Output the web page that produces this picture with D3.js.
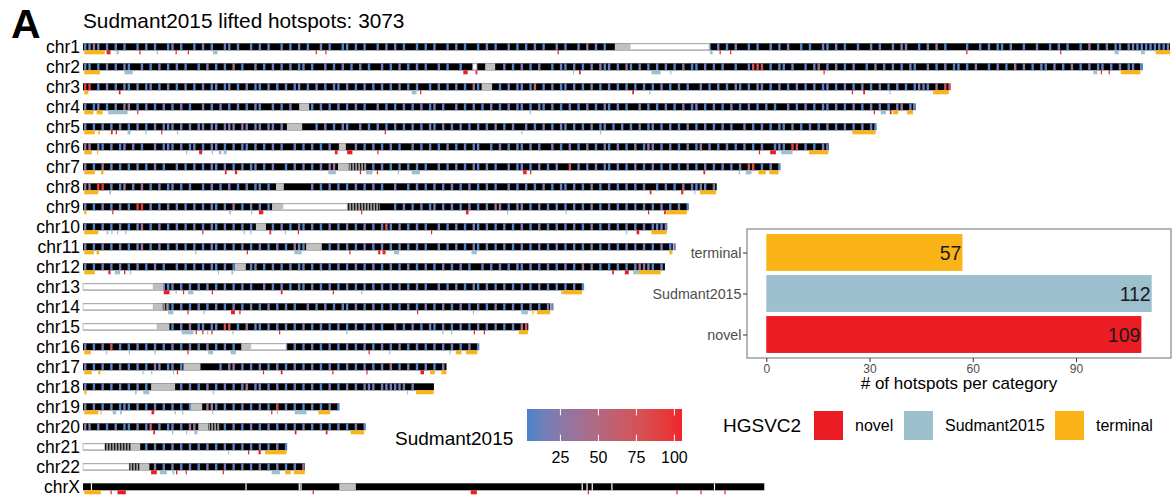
<!DOCTYPE html>
<html>
<head>
<meta charset="utf-8">
<script src="https://cdn.jsdelivr.net/npm/d3@7"></script>
<style>
  body { margin: 0; background: #fff; }
  svg { display: block; font-family: "Liberation Sans", Arial, Helvetica, sans-serif; }
</style>
</head>
<body>
<svg id="chart" width="1173" height="498"></svg>
<script>
// ---- chromosomes (hg38, Mb) ----
const chromNames = ["chr1","chr2","chr3","chr4","chr5","chr6","chr7","chr8","chr9","chr10","chr11","chr12",
  "chr13","chr14","chr15","chr16","chr17","chr18","chr19","chr20","chr21","chr22","chrX"];
const chromLengths = [248.96,242.19,198.30,190.21,181.54,170.81,159.35,145.14,138.39,133.80,135.09,133.28,
  114.36,107.04,101.99,90.34,83.26,80.37,58.62,64.44,46.71,50.82,156.04];

// gaps: [chrom, start, end, kind]  kind: cen = centromere/heterochromatin, het = unplaced arm,
// mix = satellite-rich block, brk = assembly break
const gapRegions = [
  ["chr1",121.8,125.3,"cen"],["chr1",125.3,143.4,"het"],
  ["chr2",89.3,90.2,"het"],["chr2",92.1,94.4,"cen"],
  ["chr3",91.3,93.7,"cen"],
  ["chr4",49.5,51.8,"cen"],
  ["chr5",46.7,50.2,"cen"],
  ["chr6",58.6,60.2,"cen"],
  ["chr7",58.4,60.9,"cen"],["chr7",60.9,65.0,"mix"],
  ["chr8",44.2,46.0,"cen"],
  ["chr9",43.3,45.8,"cen"],["chr9",45.8,60.5,"het"],["chr9",60.5,68.0,"mix"],
  ["chr10",39.6,41.9,"cen"],
  ["chr11",51.1,54.7,"cen"],
  ["chr12",34.8,37.3,"cen"],
  ["chr13",0,16.1,"het"],["chr13",16.1,18.4,"cen"],
  ["chr14",0,16.1,"het"],["chr14",16.1,18.3,"cen"],["chr14",18.3,19.5,"mix"],
  ["chr15",0,17.0,"het"],["chr15",17.0,19.8,"cen"],
  ["chr16",36.3,38.4,"cen"],["chr16",38.4,46.5,"het"],
  ["chr17",23.0,26.9,"cen"],
  ["chr18",15.6,21.1,"cen"],
  ["chr19",24.7,27.3,"cen"],
  ["chr20",26.4,28.7,"cen"],["chr20",28.7,31.4,"mix"],
  ["chr21",0,5.0,"het"],["chr21",5.0,10.9,"mix"],["chr21",10.9,13.1,"cen"],
  ["chr22",0,10.6,"het"],["chr22",10.6,12.9,"mix"],["chr22",12.9,15.2,"cen"],
  ["chrX",58.7,62.5,"cen"],
  ["chrX",1.8,2.1,"brk"],["chrX",37.2,37.4,"brk"],["chrX",49.4,49.6,"brk"],["chrX",49.8,50.0,"brk"],
  ["chrX",114.2,114.4,"brk"],["chrX",115.3,115.5,"brk"],["chrX",116.5,116.7,"brk"],
  ["chrX",121.0,121.2,"brk"],["chrX",144.5,144.7,"brk"]
];

// Sudmant2015 hotspots per 1-Mb bin ('.' = none, digit d = hotspot score 5 + 10*d)
const hotspotBins = [
  "0131.0.1.0 ..0.1.0..0 1.0..0.1.0 ..10.1..0. 0.1..0.0.1 .0..1.0..0 0.0.1..0.1 .1.0..0.0. 1..0.1.0.. 0.1.0..1.0 .0.1.0..1. 0..1.3.1.0 .......... .......... ...0.1.0.1 ..0.0..1.0 .1..0.0..1 0.1.0..0.. 1.0..1.13. .0.1.3.0.. ..0..0.1.0 0.1..0..1. .0.1.0..0. 3.0.1.01.0 1010101011",
  "01.0.1.0.1 0..1.0.1.0 .1.0..0.1. 0.1.3.0..1 .0.1.0.1.0 1.0..1.0.1 .0.1.0..1. 0.1.0.1.0. .1.0..0... ......1.0. 1.0.1..0.1 0.1.0.1.30 1.0.30.1.0 .1.1.0.1.0 0.1.0.1..0 ..0777.0.1 0.1..0.13. 0.1.0.1..0 .1.0.1.0.1 0..1.0.1.0 1.0.1..0.1 .0.3.1.0.1 0.1.0.1.0. 1.01.0.1.0 1.0",
  "99.0.1.0.1 0.1.01.0.1 .0.1.0.1.0 1.01.0.1.0 0.1.0.1.01 .0.1.0.10. 1.0.1.0.1. 0.1.0.1..0 .1.0.1.0.3 0....0.1.0 1.05.0.1.0 0.1.0.1.0. 1.0.1.0.1. 0.1.0.1.0. .1.0.1.0.1 0.0.11.0.1 .0.1.0.1.0 1.0.1.0.1. 0.1.0.1.0. 0301.3.77.",
  "1.01.0.1.3 3.0.1.0.1. 0.1.0..1.0 .1.0.1.0.1 0..1.0.1.. ..0.1.0.1. 0.1.0..1.0 .0.1.0.1.0 1.0..1.0.1 .0.1.0.1.0 1.0.10.1.0 .1.0.1.0.1 0.1.0..1.0 .0.1.0.1.0 1.0.1.0.1. 0.1.0.1.0. .1.0.1.0.1 0.1.0.1.0. 1.1.0.13.1 0",
  "1.0.1.0.1. 0.1.0.1.01 1.1.1.11.1 1.131.31.1 1.11.1.1.. ...0.1.0.1 0..1.0.1.0 .1.0.1.0.1 0.1.0.1.0. 1.0.1.0.1. .1.0.1.0.1 0.1.0.1.01 .0.1.0.1.0 1.0.1.0.1. 0.1.0.1.0. .1.0.1.0.1 0.1.0.1.0. 1.0.1.0.1. 01",
  "33.10.1.01 .1.0..1.01 0.1.01.0.1 1.0.1.10.1 .0.1.0..1. 0.1.0.1... ..1.0.1.0. 1.0..1.0.1 .0.1.0.1.0 1..0.1.0.1 0.1.0..1.0 .1.0.1.0.1 0.1.0.1.03 1.0.1.0.1. 03.1.0.1.0 .1.0.1..01 0.88.1.0.1 1.0.1.0.1",
  "1.0.3.1.0. 0.1.0.1.0. .1.0.1.0.1 0.1.0.1.01 .0.1..0.1. 1.0.1.33.. ......0.1. 0.1.0.1.0. .1.0.1.0.1 0.1.0..1.0 1.0.1.0.1. .7.1.0.1.0 0.1.0.1.0. 1.0.1.0.1. 0.1.0.1.0. 1.77.0.1.0",
  "33.99.1.03 .1.3.0.1.0 1.0.1..0.1 .0.1.0.1.0 1.0.1..... ..1.0.1.0. 0.1.0.1.0. .1..0.1.0. 1.0.1.0.1. 0.1.0..1.0 .1.0.1.0.1 0.1.0.1.0. 1.0.1.0.1. .0.1.0.3.0 111.1.",
  "1.0.1.0.1. 0.99.1.0.1 .1.0.1.0.1 0.1.3.0.1. 1.0....... .......... .......... .0.1.0.1.0 1.0.1.0.1. 0.1.33.0.1 3.0.1.0.1. 0.1.0.1.0. 1.0.1.0.1. 0.1.0.1.01",
  "1.0.1.0.1. 0.13.0.1.0 .1.0.1.0.1 0.1.0.1.0. ...0.1.0.1 0.1.0.1.0. 1.0.1.0.17 0.1.0.1.0. .1.0.1.0.1 0.1.0.1.0. 1.0.1.0.1. 0.1.0.1.0. 1.0.1.0.1. 0111",
  "1.0.1.0.1. 0.13.0.1.0 .1.0.1.0.1 0.1.0.1.0. 1.0.1.0.31 0.....0.1. 1.0.1.0.1. 0.1.0.1.0. .1.0.1.0.1 0.1.0.1.0. 1.0.1.0.1. 0.1.0.1.0. 1.0.1.0.1. 0.1.01",
  "1.0.1.0.1. 0.1.0.1.0. .1.0.1.0.1 0.1.0...01 .0.1.0.1.0 1.0.1.0.1. 0.1.0.1.0. 1.0.1.0.1. 0.1.0.1.0. .1.0.1.0.1 0.1.0.1.0. 1.0.3.1.0. 0.1.0.1331 0.1.0",
  ".......... ........10 1.0.1.0.1. 0.1.0.1.0. .1.0.1.0.1 0.1.0.1.0. 1.0.1.0.1. 0.1.0.1.0. .1.0.1.0.1 0.1.0.1.0. 1.0.1.0.1. 0.1.01",
  ".......... ........01 0.1.0.1.0. 1.0.1.0.1. 0.1.0.1.0. .1.0.1.0.1 0.1.0.1.0. 1.0.1.0.1. 0.1.0.1.0. 1.0.1.0.1. 0.1.0.11",
  ".......... .......... 0.1.3.01.0 1.77.0.3.1 0.1.0.1.0. 1.0.1.0.1. 0.1.0.1.0. .1.0.1.0.1 0.1.0.1.0. 1.0.1.0.1. 37",
  "1.0.1.7.0. 0.1.0.1.0. 1.0.1.0.1. 0.1.0.1... ......0.1. 0.1.0.1.0. 1.0.1.0.1. 0.1.0.1.0. 1.0.1.0.1. 0",
  "1.0.1.0.1. 0.1.0.31.0 1.0....... .0.13.1.0. 1.0.1.0.1. 0.1.0.1.0. 1.0.1.0.1. 3.0.1.0.1. 0.1.0",
  "1.0.1.0.1. 0.1.0..... ..0.1.0.1. 0.1.0.13.1 1.0.1.0.1. 0.1.0.1.0. 1.1.111.11 1111.1....",
  "1.1.0.1.01 0.1.0.1.0. 1.0.1...33 0.1.0.1.0. 1.0.7.1.0. 0.1.0.1.0.",
  "31.1.0.1.0 0.1.07.1.0 1.0.33.... ..0.1.0.1. 0.1.0.1.0. 1.0.1.0.1. 0.1.01",
  ".......... ....0.1.0. 1.0.1.0.1. 0.1.0.1.0. 1.0.1.0",
  ".......... ......1.0. 1.0.1.0.1. 0.1.0.1.0. 1.0.1.0.1. 3",
  ""
];

// HGSVC2 hotspot categories: [chrom, start, end] in Mb
const terminalMarks = [
  ["chr1",0.3,5.0],["chr1",245.7,249.0],["chr2",0.3,3.9],["chr2",237.7,242.2],["chr3",0.3,1.2],["chr3",194.7,198.3],
  ["chr4",0.3,2.4],["chr4",3.1,4.5],["chr4",185.5,186.7],["chr4",188.7,190.1],["chr5",0.3,2.7],["chr5",3.5,3.9],["chr5",176.2,181.5],
  ["chr6",0.3,2.0],["chr6",3.2,3.4],["chr6",166.3,170.7],["chr7",0.3,2.7],["chr7",4.1,4.7],["chr7",154.7,156.4],["chr7",157.2,159.3],
  ["chr8",0.3,3.5],["chr8",141.3,145.0],["chr9",0.3,0.8],["chr9",133.6,138.3],["chr10",0.3,3.5],["chr10",130.2,133.7],
  ["chr11",0.3,2.5],["chr11",3.1,3.7],["chr11",134.3,135.0],["chr12",0.3,2.7],["chr12",127.3,132.3],["chr13",109.8,114.3],
  ["chr14",102.9,103.2],["chr14",104.0,107.0],["chr15",99.8,101.9],["chr16",0.3,1.8],["chr16",85.4,86.7],["chr16",87.7,90.3],
  ["chr17",0.3,2.0],["chr17",3.5,4.0],["chr17",79.5,80.6],["chr17",82.1,83.2],["chr18",0.3,0.8],["chr18",76.3,80.3],
  ["chr19",0.3,3.5],["chr19",4.0,4.2],["chr19",53.9,56.6],["chr20",61.3,64.4],["chr21",41.7,46.6],
  ["chr22",46.3,47.6],["chr22",48.3,50.8],["chrX",0.3,4.1]
];
const sudmantMarks = [
  ["chr1",7.7,8.2],["chr1",16.9,17.2],["chr1",29.8,30.8],["chr1",143.6,144.2],["chr1",236.3,237.2],["chr1",242.3,243.2],
  ["chr2",9.5,11.4],["chr2",112.2,112.4],["chr2",130.2,132.3],["chr2",134.5,134.7],["chr2",231.4,232.3],
  ["chr3",75.3,76.4],["chr3",129.7,129.9],["chr3",184.7,184.9],
  ["chr4",5.8,10.2],["chr4",102.3,102.5],["chr4",182.7,183.9],
  ["chr5",10.2,10.9],["chr5",14.3,14.5],["chr5",21.5,21.8],["chr5",100.4,100.6],["chr5",118.4,118.7],
  ["chr6",23.6,23.8],["chr6",29.5,29.7],["chr6",31.1,31.7],["chr6",32.2,32.9],["chr6",159.9,162.5],
  ["chr7",56.2,57.9],["chr7",64.8,66.3],["chr7",72.1,72.3],["chr7",75.3,77.2],["chr7",150.2,150.4],["chr7",151.8,153.1],
  ["chr8",6.0,6.4],["chr8",140.0,140.2],
  ["chr9",33.5,33.9],["chr9",38.5,38.7],["chr9",97.1,97.3],["chr9",110.5,110.7],
  ["chr10",5.4,5.8],["chr10",6.5,6.7],["chr10",7.8,8.0],["chr10",9.7,9.9],["chr10",36.8,37.0],["chr10",38.3,38.5],["chr10",46.2,46.4],["chr10",124.4,124.6],
  ["chr11",25.7,25.9],["chr11",48.4,50.1],["chr11",71.2,72.4],["chr11",89.0,90.2],
  ["chr12",7.3,8.5],["chr12",10.8,11.0],["chr12",30.9,31.1],["chr12",34.0,34.4],["chr12",126.0,127.3],
  ["chr13",21.2,21.4],["chr13",24.1,25.3],["chr13",63.7,63.9],["chr13",109.5,109.7],
  ["chr14",19.5,20.7],["chr14",27.6,27.8],["chr14",89.3,89.5],["chr14",100.4,101.9],
  ["chr15",22.6,25.3],["chr15",28.4,28.6],["chr15",34.2,34.4],["chr15",60.3,60.5],["chr15",82.3,82.5],["chr15",84.3,84.5],
  ["chr16",5.3,5.5],["chr16",10.5,10.7],["chr16",16.4,16.6],["chr16",28.7,29.8],["chr16",33.8,35.0],["chr16",70.1,70.3],["chr16",83.9,84.1],
  ["chr17",13.6,13.8],["chr17",15.6,15.8],["chr17",20.6,20.8],
  ["chr18",11.9,12.3],["chr18",13.8,15.2],["chr18",29.7,29.9],["chr18",74.2,74.4],
  ["chr19",6.8,7.6],["chr19",8.5,8.9],["chr19",21.0,21.2],["chr19",22.7,22.9],["chr19",29.6,29.8],["chr19",44.4,44.6],["chr19",48.5,51.2],
  ["chr20",20.4,20.6],["chr20",23.6,23.8],["chr20",25.5,26.2],
  ["chr21",33.2,33.4],
  ["chr22",17.6,19.2],["chr22",20.5,20.9],["chr22",43.2,45.1]
];
const novelMarks = [
  ["chr1",5.4,6.3],["chr1",12.9,13.2],["chr1",21.2,21.4],["chr1",24.0,24.2],["chr1",53.3,53.5],["chr1",55.5,55.7],["chr1",108.7,108.9],
  ["chr1",145.8,146.0],["chr1",148.2,148.4],["chr1",202.3,202.5],["chr1",223.8,224.0],
  ["chr2",87.1,88.1],["chr2",89.9,90.3],["chr2",113.6,114.0],["chr2",169.6,169.8],["chr2",233.1,233.3],["chr2",234.9,235.1],
  ["chr3",8.2,8.6],["chr3",77.2,77.4],["chr3",125.8,126.2],["chr3",176.1,176.3],["chr3",178.7,179.1],
  ["chr4",12.4,12.6],["chr4",181.1,181.3],["chr4",184.8,185.2],
  ["chr5",6.4,6.8],["chr5",7.5,7.7],["chr5",17.9,18.1],["chr5",69.1,69.3],
  ["chr6",26.6,27.3],["chr6",57.7,58.3],["chr6",60.5,61.7],["chr6",67.4,67.6],["chr6",154.8,155.0],["chr6",157.4,158.7],
  ["chr7",32.5,32.9],["chr7",34.8,35.3],["chr7",63.4,63.7],["chr7",67.3,67.5],["chr7",100.8,101.6],["chr7",102.4,102.6],["chr7",142.1,142.5],
  ["chr8",129.8,130.2],["chr8",137.0,137.5],
  ["chr9",6.7,6.9],["chr9",40.3,41.3],["chr9",63.7,63.9],["chr9",87.7,88.3],["chr9",129.4,129.6],["chr9",133.1,133.5],
  ["chr10",27.3,27.5],["chr10",42.7,43.1],["chr10",49.2,49.4],["chr10",79.7,79.9],["chr10",126.8,127.4],
  ["chr11",37.5,37.7],["chr11",61.0,61.2],["chr11",67.6,68.1],["chr11",68.6,69.3],
  ["chr12",5.8,6.3],["chr12",9.4,9.7],["chr12",121.2,121.6],["chr12",124.1,125.0],
  ["chr13",18.5,19.8],["chr13",22.9,23.1],["chr13",29.5,29.7],["chr13",45.3,45.7],["chr13",57.2,57.4],
  ["chr14",23.9,24.1],["chr14",33.9,34.8],["chr14",35.8,36.1],["chr14",76.5,76.7],
  ["chr15",25.8,26.0],["chr15",27.3,27.5],["chr15",29.4,29.6],["chr15",44.9,45.1],["chr15",89.5,89.7],["chr15",91.8,92.0],
  ["chr16",23.9,24.1],["chr16",65.4,65.6],
  ["chr17",21.5,21.7],["chr17",41.2,41.4],["chr17",45.3,45.7],["chr17",57.1,57.3],["chr17",64.9,65.1],["chr17",77.3,78.1],
  ["chr19",15.7,16.3],["chr19",43.1,43.3],
  ["chr20",16.1,16.5],["chr20",48.5,48.9],["chr20",55.6,56.0],
  ["chr21",37.8,38.0],["chr21",40.2,40.7],
  ["chr22",15.6,16.9],["chr22",21.3,21.6],["chr22",23.5,23.7],["chr22",32.0,32.2],
  ["chrX",6.3,6.5],["chrX",7.9,9.8],["chrX",52.6,52.8],["chrX",88.8,90.2],["chrX",115.6,115.8],["chrX",135.9,136.1],["chrX",141.4,141.6],["chrX",146.9,147.1]
];

// category summary
const categoryNames = ["terminal","Sudmant2015","novel"];
const categoryCounts = [57, 112, 109];
const categoryColors = ["#fbb418", "#9cc0cd", "#ec1c24"];
const countTicks = [0, 30, 60, 90];
const scoreTicks = [25, 50, 75, 100];
const hotspotTotal = 3073;

// ---------------------------------------------------------------
const svg = d3.select("#chart");
const FONT_BLACK = "#000";

// title block
svg.append("text").attr("x", 11).attr("y", 37.5)
  .attr("font-size", 41).attr("font-weight", "bold").text("A");
svg.append("text").attr("x", 83).attr("y", 28.3)
  .attr("font-size", 20.8).attr("fill", FONT_BLACK)
  .text(`Sudmant2015 lifted hotspots: ${hotspotTotal}`);

// genome scales
const gx = d3.scaleLinear().domain([0, chromLengths[0]]).range([83, 1170]);
const rowTop = d3.scalePoint().domain(chromNames).range([43.3, 483.3]);
const barH = 7, markH = 4;
const lenOf = Object.fromEntries(chromNames.map((c, i) => [c, chromLengths[i]]));

const score = d3.scaleLinear().domain([3, 105]).range(["#4a84cc", "#f0252a"])
  .interpolate(d3.interpolateLab).clamp(true);

// satellite pattern
const defs = svg.append("defs");
const pat = defs.append("pattern").attr("id", "satPat").attr("patternUnits", "userSpaceOnUse")
  .attr("width", 3).attr("height", 10);
pat.append("rect").attr("width", 3).attr("height", 10).attr("fill", "#9a9a9a");
pat.append("rect").attr("width", 1.3).attr("height", 10).attr("fill", "#1a1a1a");

const ideo = svg.append("g");

// chromosome labels
ideo.selectAll("text.chr").data(chromNames).join("text")
  .attr("class", "chr")
  .attr("x", 80).attr("y", d => rowTop(d) + barH / 2)
  .attr("dy", "0.36em").attr("text-anchor", "end")
  .attr("font-size", 17.5).attr("fill", FONT_BLACK).text(d => d);

// chromosome bodies
ideo.selectAll("rect.body").data(chromNames).join("rect")
  .attr("class", "body")
  .attr("x", gx(0)).attr("y", d => rowTop(d))
  .attr("width", d => gx(lenOf[d]) - gx(0)).attr("height", barH)
  .attr("fill", "#000");

// hotspots
const hotspots = [];
hotspotBins.forEach((s, ci) => {
  const bins = s.replace(/ /g, "");
  for (let b = 0; b < bins.length; b++) {
    const c = bins[b];
    if (c === ".") continue;
    if (b >= chromLengths[ci]) break;
    hotspots.push({ chrom: chromNames[ci], pos: b + 0.5, value: 5 + 10 * (+c) });
  }
});
ideo.selectAll("rect.hs").data(hotspots).join("rect")
  .attr("class", "hs")
  .attr("x", d => gx(d.pos) - 1.2).attr("width", 2.4)
  .attr("y", d => rowTop(d.chrom)).attr("height", barH)
  .attr("fill", d => score(d.value));

// gaps on top
const gapG = ideo.append("g");
gapRegions.forEach(([chrom, s, e, kind]) => {
  const y = rowTop(chrom);
  const r = gapG.append("rect").attr("x", gx(s)).attr("width", Math.max(gx(e) - gx(s), 1))
    .attr("y", y).attr("height", barH);
  if (kind === "cen") r.attr("fill", "#c0c0c0");
  else if (kind === "het") r.attr("fill", "#fff").attr("stroke", "#c9c9c9").attr("stroke-width", 1)
    .attr("y", y + 0.5).attr("height", barH - 1);
  else if (kind === "mix") r.attr("fill", "url(#satPat)");
  else r.attr("fill", "#fff").attr("width", 1.2);
});

// HGSVC2 category marks below each chromosome
const markSets = [
  { marks: terminalMarks, color: categoryColors[0] },
  { marks: sudmantMarks, color: categoryColors[1] },
  { marks: novelMarks, color: categoryColors[2] }
];
markSets.forEach(({ marks, color }) => {
  ideo.append("g").selectAll("rect").data(marks).join("rect")
    .attr("x", d => gx(d[1]))
    .attr("width", d => Math.max(gx(d[2]) - gx(d[1]), 1.2))
    .attr("y", d => rowTop(d[0]) + barH)
    .attr("height", markH)
    .attr("fill", color);
});

// ---- inset: hotspots per category ----
const panel = { x0: 747, x1: 1171, y0: 229, y1: 358 };
const cx = d3.scaleLinear().domain([-5.6, 117.6]).range([panel.x0, panel.x1]);
const cy = d3.scalePoint().domain(categoryNames).range([panel.y0, panel.y1]).padding(0.573);
const bandH = cy.step() * 0.9;
const inset = svg.append("g");

inset.append("rect").attr("x", panel.x0).attr("y", panel.y0)
  .attr("width", panel.x1 - panel.x0).attr("height", panel.y1 - panel.y0)
  .attr("fill", "#fff");

inset.selectAll("rect.bar").data(categoryNames).join("rect")
  .attr("class", "bar")
  .attr("x", cx(0)).attr("y", d => cy(d) - bandH / 2)
  .attr("width", (d, i) => cx(categoryCounts[i]) - cx(0)).attr("height", bandH)
  .attr("fill", (d, i) => categoryColors[i]);

inset.selectAll("text.val").data(categoryNames).join("text")
  .attr("class", "val")
  .attr("x", (d, i) => cx(categoryCounts[i]) - 1).attr("y", d => cy(d))
  .attr("dy", "0.36em").attr("text-anchor", "end")
  .attr("font-size", 19.5).attr("fill", "#1a1a1a")
  .text((d, i) => categoryCounts[i]);

inset.append("rect").attr("x", panel.x0).attr("y", panel.y0)
  .attr("width", panel.x1 - panel.x0).attr("height", panel.y1 - panel.y0)
  .attr("fill", "none").attr("stroke", "#7a7a7a").attr("stroke-width", 1.1);

const yAxis = inset.append("g").attr("transform", `translate(${panel.x0},0)`)
  .call(d3.axisLeft(cy).tickSize(4).tickPadding(1.5));
yAxis.select(".domain").remove();
yAxis.selectAll("line").attr("stroke", "#333");
yAxis.selectAll("text").attr("font-size", 14.3).attr("fill", "#4d4d4d")
  .attr("font-family", "Liberation Sans, Arial, sans-serif");

const xAxis = inset.append("g").attr("transform", `translate(0,${panel.y1})`)
  .call(d3.axisBottom(cx).tickValues(countTicks).tickSize(4).tickPadding(2));
xAxis.select(".domain").remove();
xAxis.selectAll("line").attr("stroke", "#333");
xAxis.selectAll("text").attr("font-size", 12).attr("fill", "#4d4d4d")
  .attr("font-family", "Liberation Sans, Arial, sans-serif");

inset.append("text").attr("x", (panel.x0 + panel.x1) / 2).attr("y", 389)
  .attr("text-anchor", "middle").attr("font-size", 17).attr("fill", FONT_BLACK)
  .text("# of hotspots per category");

// ---- score colour bar ----
const cb = { x0: 527, x1: 682, y0: 409, y1: 441 };
const cbx = d3.scaleLinear().domain(score.domain()).range([cb.x0, cb.x1]);
const grad = defs.append("linearGradient").attr("id", "scoreGrad");
d3.range(0, 1.0001, 0.1).forEach(t => {
  const v = score.domain()[0] + t * (score.domain()[1] - score.domain()[0]);
  grad.append("stop").attr("offset", t).attr("stop-color", score(v));
});
const leg = svg.append("g");
leg.append("text").attr("x", 395).attr("y", 438).attr("dy", "0.36em")
  .attr("font-size", 19).attr("fill", FONT_BLACK).text("Sudmant2015");
leg.append("rect").attr("x", cb.x0).attr("y", cb.y0)
  .attr("width", cb.x1 - cb.x0).attr("height", cb.y1 - cb.y0).attr("fill", "url(#scoreGrad)");
const tickLen = (cb.y1 - cb.y0) / 5;
leg.selectAll("line.tt").data(scoreTicks).join("line").attr("class", "tt")
  .attr("x1", d => cbx(d)).attr("x2", d => cbx(d))
  .attr("y1", cb.y0).attr("y2", cb.y0 + tickLen).attr("stroke", "#fff").attr("stroke-width", 1);
leg.selectAll("line.tb").data(scoreTicks).join("line").attr("class", "tb")
  .attr("x1", d => cbx(d)).attr("x2", d => cbx(d))
  .attr("y1", cb.y1 - tickLen).attr("y2", cb.y1).attr("stroke", "#fff").attr("stroke-width", 1);
leg.selectAll("text.tl").data(scoreTicks).join("text").attr("class", "tl")
  .attr("x", d => cbx(d)).attr("y", 457.5).attr("dy", "0.36em")
  .attr("text-anchor", "middle").attr("font-size", 16).attr("fill", FONT_BLACK).text(d => d);

// ---- HGSVC2 category legend ----
const catLeg = svg.append("g");
catLeg.append("text").attr("x", 723).attr("y", 425.5).attr("dy", "0.36em")
  .attr("font-size", 19).attr("fill", FONT_BLACK).text("HGSVC2");
const keyX = [814, 904, 1055];
categoryNames.slice().reverse().forEach((name, j) => {
  const i = categoryNames.length - 1 - j;
  catLeg.append("rect").attr("x", keyX[j]).attr("y", 411).attr("width", 29).attr("height", 29)
    .attr("fill", categoryColors[i]);
  catLeg.append("text").attr("x", keyX[j] + 41).attr("y", 425.5).attr("dy", "0.36em")
    .attr("font-size", 16).attr("fill", FONT_BLACK).text(name);
});
</script>
</body>
</html>
